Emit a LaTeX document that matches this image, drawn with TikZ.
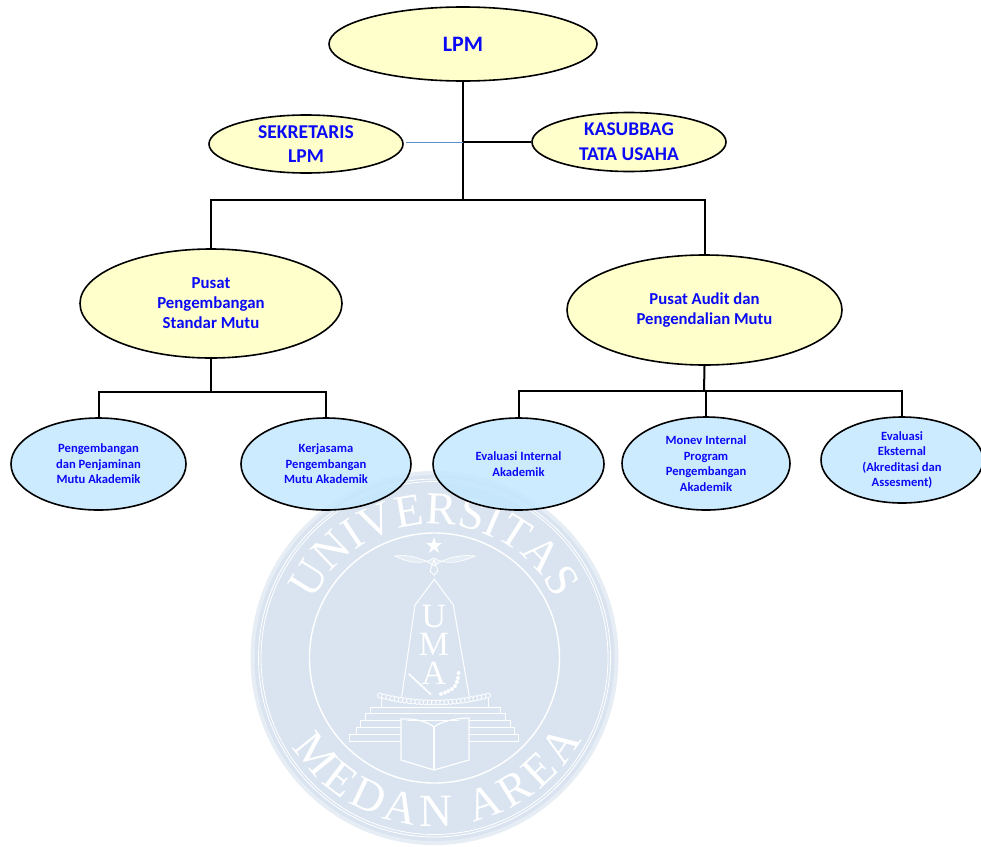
\documentclass[tikz,border=0pt]{standalone}
\usepackage{fontspec}
\setmainfont{Carlito}
\newfontfamily\wmfont{Liberation Serif}
\usetikzlibrary{shapes.geometric,decorations.text}
\definecolor{ovy}{HTML}{FFFFCC}
\definecolor{ovb}{HTML}{C2E7FF}
\definecolor{txb}{HTML}{0A0AF5}
\definecolor{wm}{HTML}{D9E4F0}
\definecolor{wmedge}{HTML}{E6EDF5}
\definecolor{slin}{HTML}{5B8FC9}
\tikzset{
  ov/.style={ellipse,draw=black,line width=1.6pt,inner sep=0pt,align=center,text=txb,font=\bfseries},
  yel/.style={ov,fill=ovy},
  blu/.style={ov,fill=ovb,fill opacity=0.82,text opacity=1},
  conn/.style={line width=2pt,draw=black},
  wl/.style={draw=white,line width=1pt},
  wml/.style={text=white,font=\wmfont\fontsize{34}{34}\selectfont,inner sep=0pt}
}
\begin{document}
\begin{tikzpicture}[x=1pt,y=1pt]
\useasboundingbox (0,-846) rectangle (981,0);
\clip (0,-846) rectangle (981,0);
% watermark
\coordinate (c) at (434.5,-658);
\fill[wmedge] (c) ellipse[x radius=184,y radius=187];
\fill[wm] (c) ellipse[x radius=180,y radius=183];
\draw[white,line width=0.8pt] (c) ellipse[x radius=176,y radius=179];
\draw[white,line width=0.8pt] (c) ellipse[x radius=173.5,y radius=176.5];
\draw[white,line width=1.4pt] (c) circle[radius=125];
\path[decorate,decoration={text along path,text align={fit to path},
  text={|\wmfont\fontsize{46}{46}\selectfont\color{white}|UNIVERSITAS}}]
  (c) ++(155:134) arc[start angle=155,end angle=28,radius=134];
\path[decorate,decoration={text along path,text align={fit to path},
  text={|\wmfont\fontsize{46}{46}\selectfont\color{white}|MEDAN AREA}}]
  (c) ++(212:168) arc[start angle=212,end angle=331,radius=168];
% star
\fill[white] (434,-537) -- (436,-543) -- (442,-543) -- (437,-547) -- (439,-553) -- (434,-549)
  -- (429,-553) -- (431,-547) -- (426,-543) -- (432,-543) -- cycle;
% bird
\draw[white,line width=0.7pt,fill=wm!70!white] (395,-556) .. controls (410,-554) and (425,-559) .. (434,-566)
  .. controls (443,-559) and (458,-554) .. (475,-556)
  .. controls (460,-563) and (445,-565) .. (434,-558)
  .. controls (423,-565) and (408,-563) .. (395,-556) -- cycle;
\draw[white,line width=0.8pt] (434,-560) -- (430,-571) -- (434,-575) -- (438,-571) -- cycle;
% obelisk
\draw[wl] (401.7,-696.7) -- (415,-605) -- (434.3,-579.3) -- (453.3,-605) -- (469.3,-696.7);
\node[wml] (letu) at (434,-617) {U};
\node[wml] (letm) at (434,-644) {M};
\node[wml] (leta) at (434,-673) {A};
% laurel
\foreach \px/\py in {458.5/673,458/678,457/682,455/686,452/689,448.5/691,445/692.5,441/694}
  \fill[white] (\px,-\py) circle[radius=2];
\foreach \a in {0,...,7}
  \fill[white,rotate around={-45:({410+\a*2.8},{-675-\a*2.6})}] ({410+\a*2.8},{-675-\a*2.6}) ellipse[x radius=2.4,y radius=1];
% bead chain
\foreach \a in {0,...,26}
  \draw[white,line width=0.8pt,fill=wm] ({380+\a*4.15},{-695.5-7*(1-((\a-13)/13)*((\a-13)/13))}) circle[radius=2.6];
\draw[wl] (381,-698) -- (381,-707) (488,-698) -- (488,-707);
% steps
\draw[wl] (370,-707) rectangle (500,-713.5);
\draw[wl] (365,-713.5) rectangle (505,-720);
\draw[wl] (360,-720) rectangle (510,-727);
\draw[wl] (356,-727) rectangle (514,-734);
\draw[wl] (349,-734) rectangle (518,-741);
% book
\fill[wm] (401,-719) -- (434,-727) -- (469,-718) -- (469,-760) -- (434,-770) -- (401,-760) -- cycle;
\draw[wl,line width=1.2pt] (401,-719) .. controls (415,-718) and (428,-722) .. (434,-727)
  .. controls (440,-722) and (455,-718) .. (469,-718) -- (469,-760) -- (434,-770) -- (401,-760) -- cycle;
\draw[wl,line width=1.2pt] (434,-727) -- (434,-770);
% nodes
\node[yel,minimum width=268pt,minimum height=74pt,font=\bfseries\fontsize{22}{24}\selectfont] (lpm) at (463,-44) {LPM};
\node[yel,minimum width=194pt,minimum height=58pt,font=\bfseries\fontsize{19.6}{24}\selectfont] (sek) at (306,-144) {SEKRETARIS\\LPM};
\node[yel,minimum width=194pt,minimum height=59pt,font=\bfseries\fontsize{19.4}{25}\selectfont] (kas) at (629,-142) {KASUBBAG\\TATA USAHA};
\node[yel,minimum width=262pt,minimum height=109pt,font=\bfseries\fontsize{16.8}{20}\selectfont] (pus) at (211,-303.5) {Pusat\\Pengembangan\\Standar Mutu};
\node[yel,minimum width=275pt,minimum height=110pt,font=\bfseries\fontsize{16.7}{20}\selectfont] (pau) at (704.5,-310) {Pusat Audit dan\\Pengendalian Mutu};
\tikzset{sm/.style={blu,font=\bfseries\fontsize{12.6}{15.5}\selectfont}}
\node[sm,minimum width=175pt,minimum height=92pt] (pen) at (98.5,-464) {Pengembangan\\dan Penjaminan\\Mutu Akademik};
\node[sm,minimum width=170pt,minimum height=92pt] (ker) at (326,-464) {Kerjasama\\Pengembangan\\Mutu Akademik};
\node[sm,minimum width=171pt,minimum height=92pt] (evi) at (518.5,-464) {Evaluasi Internal\\Akademik};
\node[sm,minimum width=168pt,minimum height=93pt] (mon) at (706,-463.5) {Monev Internal\\Program\\Pengembangan\\Akademik};
\node[sm,minimum width=162pt,minimum height=86pt] (eve) at (902,-460) {Evaluasi\\Eksternal\\(Akreditasi dan\\Assesment)};
% connectors
\coordinate (j1) at (463,-142);
\coordinate (j2) at (463,-200);
\coordinate (sl) at (406,-142);
\coordinate (j3) at (211,-392);
\coordinate (j4) at (704,-391);
\draw[conn] (lpm.south) -- (j2);
\draw[conn] (kas.west) -- (j1);
\draw[slin,line width=1pt] (sl) -- (j1);
\draw[conn] (j2) -| (pus.north);
\draw[conn] (j2) -| (pau.north);
\draw[conn] (pus.south) -- (j3);
\draw[conn] (j3) -| (pen.north);
\draw[conn] (j3) -| (ker.north);
\draw[conn] (pau.south) -- (j4);
\draw[conn] (j4) -| (evi.north);
\draw[conn] (j4) -| (eve.north);
\draw[conn,line width=1.5pt] (j4) -| (mon.north);
\end{tikzpicture}
\end{document}
